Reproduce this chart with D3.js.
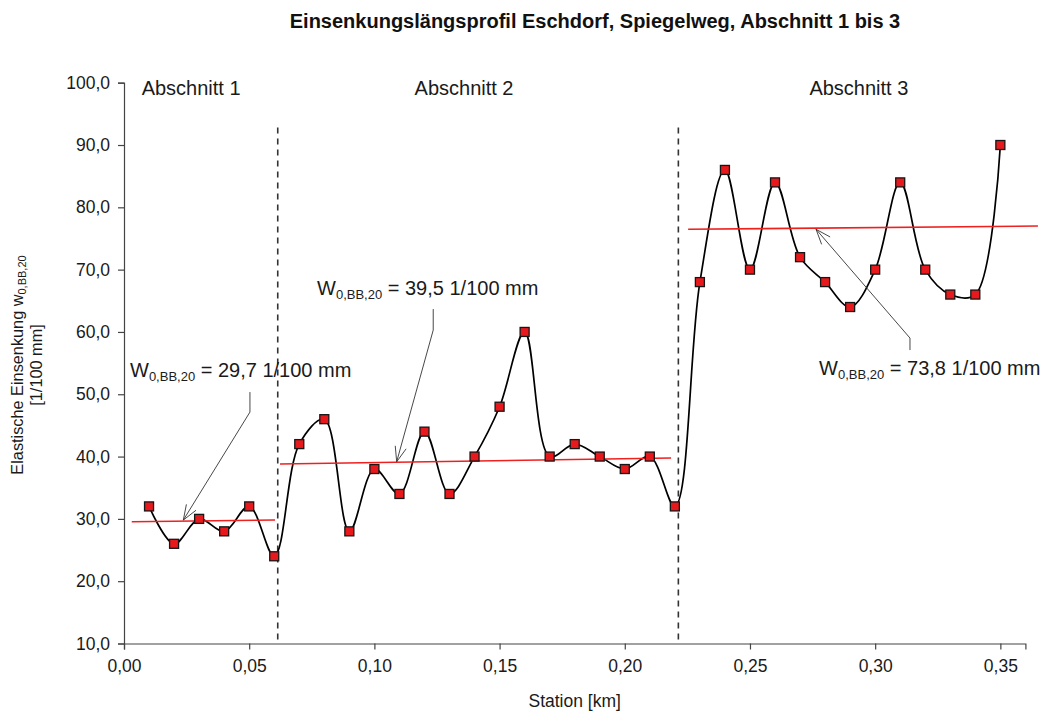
<!DOCTYPE html>
<html>
<head>
<meta charset="utf-8">
<script src="https://cdn.jsdelivr.net/npm/d3@7"></script>
<style>
  body { margin: 0; background: #fff; }
  svg { font-family: "Liberation Sans", Arial, sans-serif; }
</style>
</head>
<body>
<svg id="chart" width="1048" height="712"></svg>
<script>
// Measured deflection per station (km) along Spiegelweg
const stations = [0.01, 0.02, 0.03, 0.04, 0.05, 0.06, 0.07, 0.08, 0.09, 0.10,
                  0.11, 0.12, 0.13, 0.14, 0.15, 0.16, 0.17, 0.18, 0.19, 0.20,
                  0.21, 0.22, 0.23, 0.24, 0.25, 0.26, 0.27, 0.28, 0.29, 0.30,
                  0.31, 0.32, 0.33, 0.34, 0.35];
const deflections = [32, 26, 30, 28, 32, 24, 42, 46, 28, 38,
                     34, 44, 34, 40, 48, 60, 40, 42, 40, 38,
                     40, 32, 68, 86, 70, 84, 72, 68, 64, 70,
                     84, 70, 66, 66, 90];

const xTicks = [0, 0.05, 0.10, 0.15, 0.20, 0.25, 0.30, 0.35];
const yTicks = [10, 20, 30, 40, 50, 60, 70, 80, 90, 100];

// Sections
const sectionNames = ["Abschnitt 1", "Abschnitt 2", "Abschnitt 3"];
const sectionLabelX = [0.0268, 0.1358, 0.2935];
const sectionBounds = [0.0614, 0.2214];

// Trend lines per section: [station, deflection] at start and end
const trendStart = [[0.0031, 29.53], [0.0623, 38.80], [0.2253, 76.47]];
const trendEnd   = [[0.0603, 29.81], [0.2185, 39.76], [0.365, 77.0]];

// Characteristic deflection per section, with callout geometry (data units)
const charValues = ["29,7", "39,5", "73,8"];
const calloutText  = [[0.0024, 52.76], [0.0771, 65.92], [0.2776, 53.08]];
const calloutStart = [[0.0503, 50.35], [0.1235, 63.67], [0.3139, 57.09]];
const calloutBend  = [[0.0503, 47.14], [0.1235, 60.30], [0.3139, 59.02]];
const calloutTip   = [[0.0237, 29.81], [0.1089, 39.17], [0.2764, 76.47]];

const svg = d3.select("#chart");
const x = d3.scaleLinear().domain([0, 0.36]).range([124, 1025.4]);
const y = d3.scaleLinear().domain([10, 100]).range([643.5, 82.7]);

const de = d3.formatLocale({ decimal: ",", thousands: ".", grouping: [3], currency: ["", " €"] });
const fx = de.format(".2f");
const fy = de.format(".1f");

// Title
svg.append("text")
  .attr("x", 595).attr("y", 28)
  .attr("text-anchor", "middle")
  .attr("font-size", 20).attr("font-weight", "bold")
  .attr("fill", "#111")
  .text("Einsenkungslängsprofil Eschdorf, Spiegelweg, Abschnitt 1 bis 3");

// Axes
const xAxis = svg.append("g")
  .attr("transform", `translate(0,${y(10)})`)
  .call(d3.axisBottom(x).tickValues(xTicks).tickFormat(fx).tickSizeOuter(0).tickSize(6).tickPadding(10));
const yAxis = svg.append("g")
  .attr("transform", `translate(${x(0)},0)`)
  .call(d3.axisLeft(y).tickValues(yTicks).tickFormat(fy).tickSizeOuter(0).tickSize(6).tickPadding(8));

[xAxis, yAxis].forEach(g => {
  g.select(".domain").attr("stroke", "#444").attr("stroke-width", 1.2);
  g.selectAll(".tick line").attr("stroke", "#444").attr("stroke-width", 1.2);
  g.selectAll(".tick text").attr("fill", "#1a1a1a").attr("font-size", 17.5)
    .attr("font-family", "Liberation Sans, Arial, sans-serif");
});

// Axis titles
svg.append("text")
  .attr("x", x(0.18)).attr("y", 707)
  .attr("text-anchor", "middle").attr("font-size", 17.5).attr("fill", "#1a1a1a")
  .text("Station [km]");

const yl = svg.append("text")
  .attr("transform", "translate(23,365) rotate(-90)")
  .attr("text-anchor", "middle").attr("font-size", 16.3).attr("fill", "#1a1a1a");
yl.append("tspan").text("Elastische Einsenkung w");
yl.append("tspan").attr("font-size", 11).attr("dy", 3).text("0,BB,20");
svg.append("text")
  .attr("transform", "translate(42,365) rotate(-90)")
  .attr("text-anchor", "middle").attr("font-size", 16.3).attr("fill", "#1a1a1a")
  .text("[1/100 mm]");

// Section boundaries
svg.selectAll("line.bound").data(sectionBounds).join("line")
  .attr("class", "bound")
  .attr("x1", d => x(d)).attr("x2", d => x(d))
  .attr("y1", y(92.8)).attr("y2", y(10))
  .attr("stroke", "#333").attr("stroke-width", 1.6)
  .attr("stroke-dasharray", "6,5");

// Section labels
svg.selectAll("text.section").data(sectionNames).join("text")
  .attr("class", "section")
  .attr("x", (d, i) => x(sectionLabelX[i])).attr("y", y(98.0))
  .attr("text-anchor", "middle").attr("font-size", 20).attr("fill", "#1a1a1a")
  .text(d => d);

// Measured profile, smoothed
const pts = stations.map((s, i) => [s, deflections[i]]);
svg.append("path")
  .datum(pts)
  .attr("fill", "none").attr("stroke", "#000").attr("stroke-width", 1.7)
  .attr("d", d3.line().x(d => x(d[0])).y(d => y(d[1])).curve(d3.curveCatmullRom.alpha(0.5)));

// Trend lines
svg.selectAll("line.trend").data(trendStart).join("line")
  .attr("class", "trend")
  .attr("x1", d => x(d[0])).attr("y1", d => y(d[1]))
  .attr("x2", (d, i) => x(trendEnd[i][0])).attr("y2", (d, i) => y(trendEnd[i][1]))
  .attr("stroke", "#ee2020").attr("stroke-width", 1.6);

// Markers
const ms = 9;
svg.selectAll("rect.pt").data(pts).join("rect")
  .attr("class", "pt")
  .attr("x", d => x(d[0]) - ms / 2).attr("y", d => y(d[1]) - ms / 2)
  .attr("width", ms).attr("height", ms)
  .attr("fill", "#e8191c").attr("stroke", "#161616").attr("stroke-width", 1.3);

// Callouts
charValues.forEach((v, i) => {
  const p0 = [x(calloutStart[i][0]), y(calloutStart[i][1])];
  const p1 = [x(calloutBend[i][0]), y(calloutBend[i][1])];
  const p2 = [x(calloutTip[i][0]), y(calloutTip[i][1])];
  svg.append("path")
    .attr("d", d3.line()([p0, p1, p2]))
    .attr("fill", "none").attr("stroke", "#333").attr("stroke-width", 0.9);
  // open arrow head
  const ang = Math.atan2(p2[1] - p1[1], p2[0] - p1[0]);
  const L = 16, a = 0.36;
  const h1 = [p2[0] - L * Math.cos(ang - a), p2[1] - L * Math.sin(ang - a)];
  const h2 = [p2[0] - L * Math.cos(ang + a), p2[1] - L * Math.sin(ang + a)];
  svg.append("path")
    .attr("d", d3.line()([h1, p2, h2]))
    .attr("fill", "none").attr("stroke", "#333").attr("stroke-width", 0.9);

  const t = svg.append("text")
    .attr("x", x(calloutText[i][0])).attr("y", y(calloutText[i][1]))
    .attr("font-size", 20).attr("fill", "#1a1a1a");
  t.append("tspan").text("W");
  t.append("tspan").attr("font-size", 13).attr("dy", 4).text("0,BB,20");
  t.append("tspan").attr("dy", -4).text(` = ${v} 1/100 mm`);
});
</script>
</body>
</html>
